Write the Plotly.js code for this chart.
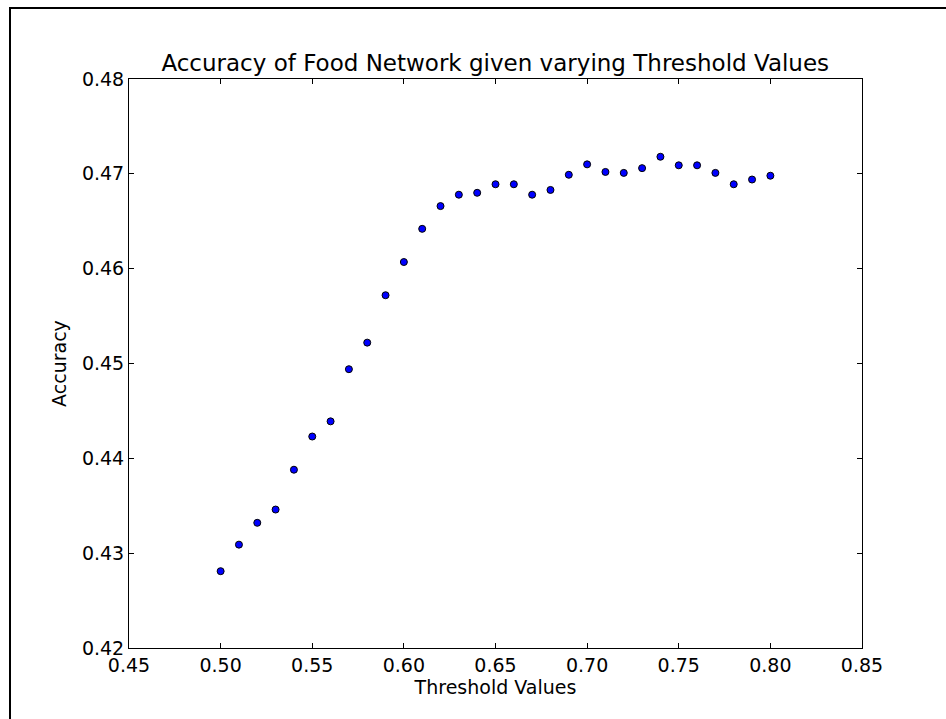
<!DOCTYPE html>
<html>
<head>
<meta charset="utf-8">
<script src="https://cdn.plot.ly/plotly-3.0.1.min.js"></script>
<style>
  html, body { margin: 0; padding: 0; background: #fff; }
  #chart { width: 946px; height: 719px; position: absolute; left: 0; top: 0; }
  #frame { position: absolute; left: 9px; top: 7px; width: 960px; height: 760px;
           border-left: 2px solid #000; border-top: 2px solid #000; pointer-events: none; }
</style>
</head>
<body>
<div id="chart"></div>
<div id="frame"></div>
<script>
const thresholds = [0.50, 0.51, 0.52, 0.53, 0.54, 0.55, 0.56, 0.57, 0.58, 0.59,
                    0.60, 0.61, 0.62, 0.63, 0.64, 0.65, 0.66, 0.67, 0.68, 0.69,
                    0.70, 0.71, 0.72, 0.73, 0.74, 0.75, 0.76, 0.77, 0.78, 0.79, 0.80];
const accuracy = [0.4281, 0.4309, 0.4332, 0.4346, 0.4388, 0.4423, 0.4439, 0.4494, 0.4522, 0.4572,
                  0.4607, 0.4642, 0.4666, 0.4678, 0.4680, 0.4689, 0.4689, 0.4678, 0.4683, 0.4699,
                  0.4710, 0.4702, 0.4701, 0.4706, 0.4718, 0.4709, 0.4709, 0.4701, 0.4689, 0.4694, 0.4698];
const xTicks = [0.45, 0.50, 0.55, 0.60, 0.65, 0.70, 0.75, 0.80, 0.85];
const xTickLabels = ["0.45", "0.50", "0.55", "0.60", "0.65", "0.70", "0.75", "0.80", "0.85"];
const yTicks = [0.42, 0.43, 0.44, 0.45, 0.46, 0.47, 0.48];
const yTickLabels = ["0.42", "0.43", "0.44", "0.45", "0.46", "0.47", "0.48"];

const font = "DejaVu Sans, sans-serif";

const trace = {
  x: thresholds,
  y: accuracy,
  type: "scatter",
  mode: "markers",
  marker: { color: "#0000ff", size: 7, line: { color: "#000000", width: 1 } },
  hoverinfo: "skip"
};

const axisCommon = {
  showgrid: false,
  zeroline: false,
  showline: true,
  linecolor: "#000",
  linewidth: 1,
  mirror: "allticks",
  ticks: "inside",
  ticklen: 5,
  tickwidth: 1,
  tickcolor: "#000",
  tickfont: { family: font, size: 19, color: "#000" }
};

const layout = {
  width: 946,
  height: 719,
  margin: { l: 128.5, r: 84, t: 79, b: 71 },
  paper_bgcolor: "#fff",
  plot_bgcolor: "#fff",
  showlegend: false,
  title: {
    text: "Accuracy of Food Network given varying Threshold Values",
    font: { family: font, size: 23, color: "#000" },
    x: 0.5235, xanchor: "center",
    y: 1 - 63 / 719, yanchor: "middle"
  },
  xaxis: Object.assign({}, axisCommon, {
    range: [0.45, 0.85],
    tickvals: xTicks,
    ticktext: xTickLabels,
    title: { text: "Threshold Values", font: { family: font, size: 19, color: "#000" }, standoff: 4 }
  }),
  yaxis: Object.assign({}, axisCommon, {
    range: [0.42, 0.48],
    tickvals: yTicks,
    ticktext: yTickLabels,
    title: { text: "Accuracy", font: { family: font, size: 19, color: "#000" }, standoff: 10 }
  })
};

Plotly.newPlot("chart", [trace], layout, { staticPlot: true, displayModeBar: false });
</script>
</body>
</html>
